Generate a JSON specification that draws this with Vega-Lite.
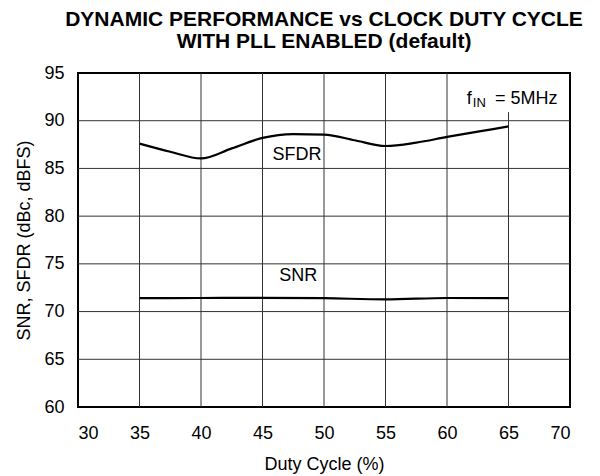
{
  "$schema": "https://vega.github.io/schema/vega-lite/v6.json",
  "autosize": "none",
  "width": 492,
  "height": 334,
  "padding": {"left": 78, "top": 73, "right": 30, "bottom": 69},
  "background": "white",
  "config": {
    "font": "Liberation Sans",
    "view": {"stroke": "black", "strokeWidth": 2},
    "axis": {
      "labelFont": "Liberation Sans",
      "titleFont": "Liberation Sans",
      "labelFontSize": 18,
      "titleFontSize": 18,
      "labelColor": "black",
      "titleColor": "black",
      "titleFontWeight": "normal",
      "grid": false,
      "domain": false,
      "ticks": false
    }
  },
  "title": {
    "text": ["DYNAMIC PERFORMANCE vs CLOCK DUTY CYCLE", "WITH PLL ENABLED (default)"],
    "font": "Liberation Sans",
    "fontSize": 21,
    "fontWeight": "bold",
    "lineHeight": 22,
    "anchor": "middle",
    "offset": 12,
    "color": "black"
  },
  "datasets": {
    "grid": [
      {"g": "v35", "x": 35, "y": 60}, {"g": "v35", "x": 35, "y": 95},
      {"g": "v40", "x": 40, "y": 60}, {"g": "v40", "x": 40, "y": 95},
      {"g": "v45", "x": 45, "y": 60}, {"g": "v45", "x": 45, "y": 95},
      {"g": "v50", "x": 50, "y": 60}, {"g": "v50", "x": 50, "y": 95},
      {"g": "v55", "x": 55, "y": 60}, {"g": "v55", "x": 55, "y": 95},
      {"g": "v60", "x": 60, "y": 60}, {"g": "v60", "x": 60, "y": 95},
      {"g": "v65", "x": 65, "y": 60}, {"g": "v65", "x": 65, "y": 90.9},
      {"g": "h65", "x": 30, "y": 65}, {"g": "h65", "x": 70, "y": 65},
      {"g": "h70", "x": 30, "y": 70}, {"g": "h70", "x": 70, "y": 70},
      {"g": "h75", "x": 30, "y": 75}, {"g": "h75", "x": 70, "y": 75},
      {"g": "h80", "x": 30, "y": 80}, {"g": "h80", "x": 70, "y": 80},
      {"g": "h85", "x": 30, "y": 85}, {"g": "h85", "x": 70, "y": 85},
      {"g": "h90", "x": 30, "y": 90}, {"g": "h90", "x": 70, "y": 90}
    ],
    "curves": [
      {"series": "SFDR", "duty": 35, "value": 87.6},
      {"series": "SFDR", "duty": 37.5, "value": 86.75},
      {"series": "SFDR", "duty": 40, "value": 86.05},
      {"series": "SFDR", "duty": 42.5, "value": 87.1},
      {"series": "SFDR", "duty": 45, "value": 88.2},
      {"series": "SFDR", "duty": 47.5, "value": 88.6},
      {"series": "SFDR", "duty": 50, "value": 88.55},
      {"series": "SFDR", "duty": 52.5, "value": 87.95},
      {"series": "SFDR", "duty": 55, "value": 87.35},
      {"series": "SFDR", "duty": 57.5, "value": 87.7},
      {"series": "SFDR", "duty": 60, "value": 88.3},
      {"series": "SFDR", "duty": 62.5, "value": 88.85},
      {"series": "SFDR", "duty": 65, "value": 89.4},
      {"series": "SNR", "duty": 35, "value": 71.4},
      {"series": "SNR", "duty": 40, "value": 71.42},
      {"series": "SNR", "duty": 45, "value": 71.44},
      {"series": "SNR", "duty": 50, "value": 71.4},
      {"series": "SNR", "duty": 55, "value": 71.28},
      {"series": "SNR", "duty": 60, "value": 71.42},
      {"series": "SNR", "duty": 65, "value": 71.4}
    ],
    "labels": [
      {"duty": 47.8, "value": 86.4, "text": "SFDR"},
      {"duty": 47.9, "value": 73.7, "text": "SNR"},
      {"duty": 63.9, "value": 92.3, "text": "= 5MHz"},
      {"duty": 61.6, "value": 92.3, "text": "f"}
    ],
    "sub": [
      {"duty": 62.1, "value": 91.85, "text": "IN"}
    ]
  },
  "layer": [
    {
      "data": {"name": "grid"},
      "mark": {"type": "line", "color": "#333", "strokeWidth": 1},
      "encoding": {
        "x": {"field": "x", "type": "quantitative", "scale": {"domain": [30, 70], "nice": false, "zero": false}, "title": "Duty Cycle (%)", "axis": {"values": [30, 35, 40, 45, 50, 55, 60, 65, 70], "labelPadding": 17, "titlePadding": 13}},
        "y": {"field": "y", "type": "quantitative", "scale": {"domain": [60, 95], "nice": false, "zero": false}, "title": "SNR, SFDR (dBc, dBFS)", "axis": {"values": [60, 65, 70, 75, 80, 85, 90, 95], "labelPadding": 14, "titlePadding": 10}},
        "detail": {"field": "g"},
        "order": {"field": "y"}
      }
    },
    {
      "data": {"name": "curves"},
      "mark": {"type": "line", "color": "black", "strokeWidth": 2.2, "interpolate": "monotone"},
      "encoding": {
        "x": {"field": "duty", "type": "quantitative", "scale": {"domain": [30, 70], "nice": false, "zero": false}, "title": "Duty Cycle (%)"},
        "y": {"field": "value", "type": "quantitative", "scale": {"domain": [60, 95], "nice": false, "zero": false}, "title": "SNR, SFDR (dBc, dBFS)"},
        "detail": {"field": "series"}
      }
    },
    {
      "data": {"name": "labels"},
      "transform": [{"filter": "datum.text === 'SFDR' || datum.text === 'SNR'"}],
      "mark": {"type": "text", "font": "Liberation Sans", "fontSize": 18, "color": "black", "align": "center", "baseline": "middle"},
      "encoding": {
        "x": {"field": "duty", "type": "quantitative", "scale": {"domain": [30, 70], "nice": false, "zero": false}},
        "y": {"field": "value", "type": "quantitative", "scale": {"domain": [60, 95], "nice": false, "zero": false}},
        "text": {"field": "text"}
      }
    },
    {
      "data": {"name": "labels"},
      "transform": [{"filter": "datum.text === 'f' || datum.text === '= 5MHz'"}],
      "mark": {"type": "text", "font": "Liberation Sans", "fontSize": 18, "color": "black", "align": "left", "baseline": "middle"},
      "encoding": {
        "x": {"field": "duty", "type": "quantitative", "scale": {"domain": [30, 70], "nice": false, "zero": false}},
        "y": {"field": "value", "type": "quantitative", "scale": {"domain": [60, 95], "nice": false, "zero": false}},
        "text": {"field": "text"}
      }
    },
    {
      "data": {"name": "sub"},
      "mark": {"type": "text", "font": "Liberation Sans", "fontSize": 13, "color": "black", "align": "left", "baseline": "middle"},
      "encoding": {
        "x": {"field": "duty", "type": "quantitative", "scale": {"domain": [30, 70], "nice": false, "zero": false}},
        "y": {"field": "value", "type": "quantitative", "scale": {"domain": [60, 95], "nice": false, "zero": false}},
        "text": {"field": "text"}
      }
    }
  ]
}
